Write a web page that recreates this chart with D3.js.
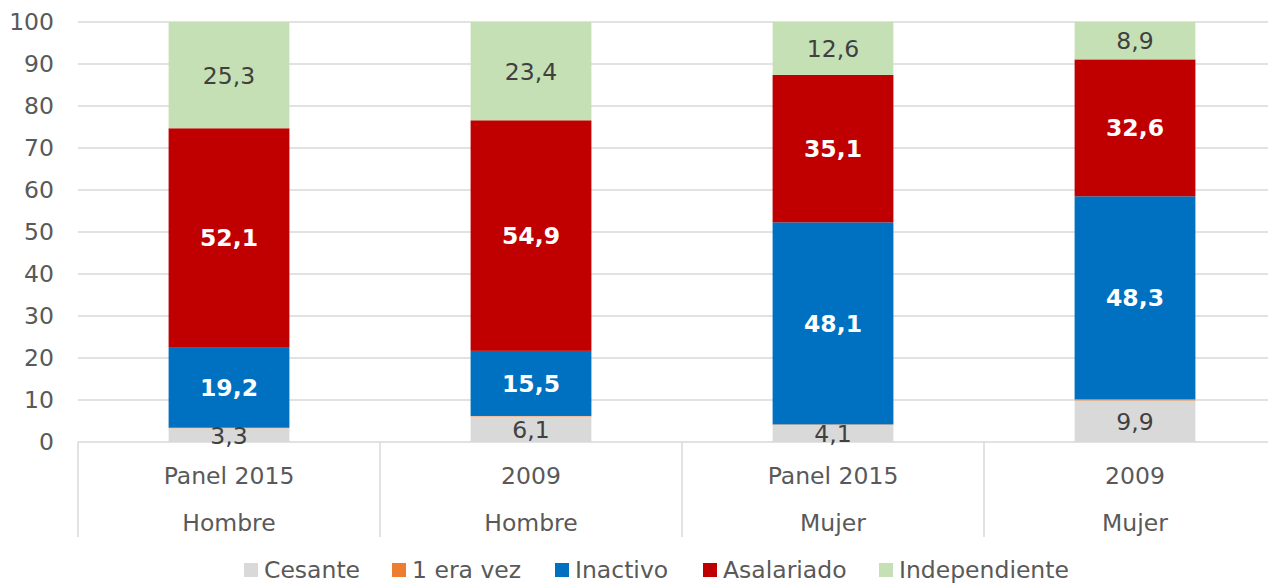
<!DOCTYPE html>
<html>
<head>
<meta charset="utf-8">
<script src="https://cdn.jsdelivr.net/npm/d3@7"></script>
<style>
  body { margin: 0; background: #fff; }
  svg { font-family: "DejaVu Sans", Verdana, sans-serif; display: block; }
</style>
</head>
<body>
<svg id="chart"></svg>
<script>
// categories (inner / outer level)
const periods = ['Panel 2015', '2009', 'Panel 2015', '2009']
const sexes = ['Hombre', 'Hombre', 'Mujer', 'Mujer']

// series values (%)
const cesante = [3.3, 6.1, 4.1, 9.9]
const primeraVez = [0.1, 0.1, 0.1, 0.3]
const inactivo = [19.2, 15.5, 48.1, 48.3]
const asalariado = [52.1, 54.9, 35.1, 32.6]
const independiente = [25.3, 23.4, 12.6, 8.9]

const seriesNames = ['Cesante', '1 era vez', 'Inactivo', 'Asalariado', 'Independiente']
const yTicks = [0, 10, 20, 30, 40, 50, 60, 70, 80, 90, 100]

const colors = ['#d9d9d9', '#ed7d31', '#0070c0', '#c00000', '#c5e0b4']
const labelColors = ['#404040', null, '#ffffff', '#ffffff', '#404040']
const labelBold = [false, false, true, true, false]

// build rows for the stack
const keys = ['c', 'p', 'i', 'a', 'ind']
const rows = periods.map((p, i) => ({
    idx: i,
    c: cesante[i], p: primeraVez[i], i: inactivo[i], a: asalariado[i], ind: independiente[i]
}))

const w = 1268, h = 584
const plotL = 78, plotR = 1286, plotT = 22, plotB = 442
const fs = 23.5

const svg = d3.select('#chart')
    .attr('width', w)
    .attr('height', h)

const x = d3.scaleBand()
    .domain(d3.range(periods.length))
    .range([plotL, plotR])
    .paddingInner(0.6)
    .paddingOuter(0.3)

const step = (plotR - plotL) / periods.length

const y = d3.scaleLinear()
    .domain([0, 100])
    .range([plotB, plotT])

// gridlines
svg.append('g')
    .selectAll('line')
    .data(yTicks)
    .join('line')
    .attr('x1', plotL)
    .attr('x2', w)
    .attr('y1', d => y(d))
    .attr('y2', d => y(d))
    .attr('stroke', '#d9d9d9')
    .attr('stroke-width', 1.5)

// y axis labels
const yAxis = d3.axisLeft(y).tickValues(yTicks).tickSize(0).tickPadding(0)
svg.append('g')
    .attr('transform', `translate(${plotL - 24},0)`)
    .call(yAxis)
    .call(g => g.select('.domain').remove())
    .selectAll('text')
    .attr('fill', '#595959')
    .attr('font-size', fs)
    .attr('font-family', '"DejaVu Sans", Verdana, sans-serif')

// category dividers
svg.append('g')
    .selectAll('line')
    .data(d3.range(periods.length + 1))
    .join('line')
    .attr('x1', d => plotL + d * step)
    .attr('x2', d => plotL + d * step)
    .attr('y1', plotB)
    .attr('y2', 537)
    .attr('stroke', '#d9d9d9')
    .attr('stroke-width', 1.5)

// stacked bars
const stacked = d3.stack().keys(keys)(rows)

const layers = svg.append('g')
    .selectAll('g')
    .data(stacked)
    .join('g')
    .attr('fill', (d, i) => colors[i])

layers.selectAll('rect')
    .data(d => d)
    .join('rect')
    .attr('x', d => x(d.data.idx))
    .attr('width', x.bandwidth())
    .attr('y', d => y(d[1]))
    .attr('height', d => y(d[0]) - y(d[1]))

// value labels
stacked.forEach((layer, si) => {
    if (!labelColors[si]) return
    svg.append('g')
        .selectAll('text')
        .data(layer)
        .join('text')
        .attr('x', d => x(d.data.idx) + x.bandwidth() / 2)
        .attr('y', d => y((d[0] + d[1]) / 2))
        .attr('dy', '0.36em')
        .attr('text-anchor', 'middle')
        .attr('font-size', fs)
        .attr('font-weight', labelBold[si] ? 'bold' : 'normal')
        .attr('fill', labelColors[si])
        .text(d => d3.format('.1f')(d[1] - d[0]).replace('.', ','))
})

// x axis (two levels)
const xCenter = i => x(i) + x.bandwidth() / 2
svg.append('g')
    .selectAll('text')
    .data(periods)
    .join('text')
    .attr('x', (d, i) => xCenter(i))
    .attr('y', 484)
    .attr('text-anchor', 'middle')
    .attr('font-size', fs)
    .attr('fill', '#595959')
    .text(d => d)

svg.append('g')
    .selectAll('text')
    .data(sexes)
    .join('text')
    .attr('x', (d, i) => xCenter(i))
    .attr('y', 531)
    .attr('text-anchor', 'middle')
    .attr('font-size', fs)
    .attr('fill', '#595959')
    .text(d => d)

// legend
const legendX = [244, 392, 555, 703, 879]
const legend = svg.append('g')
    .selectAll('g')
    .data(seriesNames)
    .join('g')
    .attr('transform', (d, i) => `translate(${legendX[i]},563)`)

legend.append('rect')
    .attr('width', 14)
    .attr('height', 14)
    .attr('fill', (d, i) => colors[i])

legend.append('text')
    .attr('x', 20)
    .attr('y', 15)
    .attr('font-size', fs)
    .attr('fill', '#595959')
    .text(d => d)
</script>
</body>
</html>
